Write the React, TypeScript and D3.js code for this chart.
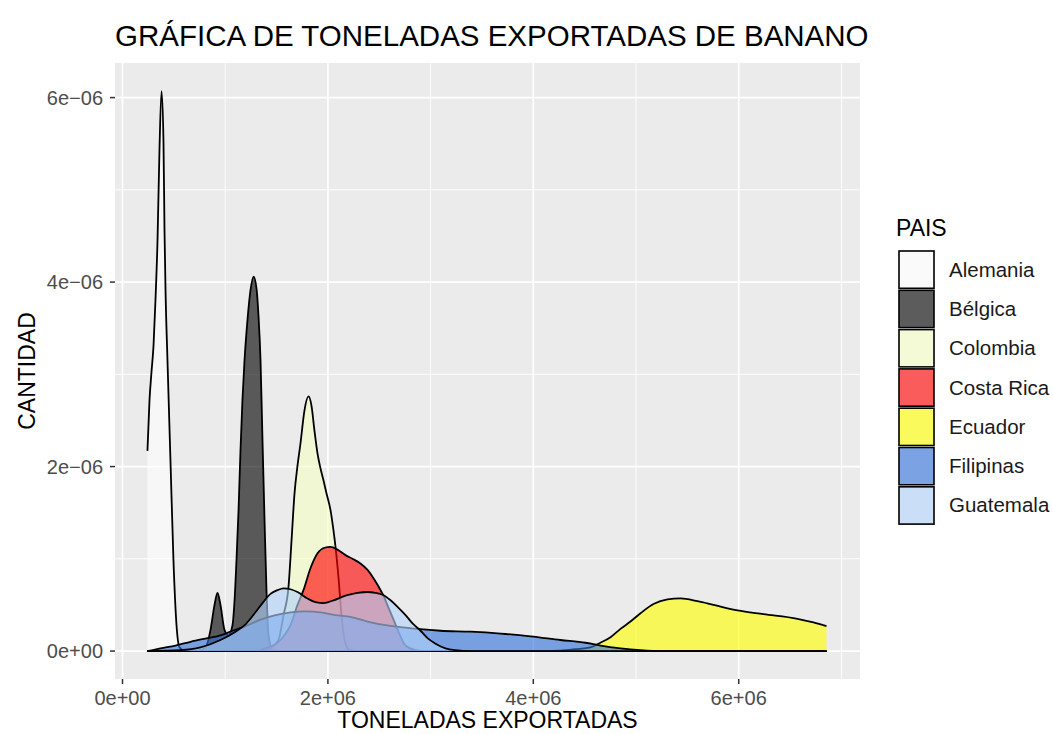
import React from 'react';
import * as d3 from 'd3';

// ---------- data (x: millions of tonnes, y: density in units of 1e-6) ----------
const COUNTRIES = ['Alemania', 'Bélgica', 'Colombia', 'Costa Rica', 'Ecuador', 'Filipinas', 'Guatemala'];
const FILL_COLORS = ['#FFFFFF', '#000000', '#F4FFC4', '#FF0000', '#FFFF00', '#3272DA', '#B2D2FA'];

const ALEMANIA: [number, number][] = [
  [0.243, 2.17], [0.263, 2.72], [0.282, 3.02], [0.302, 3.31], [0.321, 3.8], [0.341, 4.45],
  [0.36, 5.43], [0.38, 6.07], [0.399, 5.53], [0.409, 4.56], [0.419, 3.91], [0.438, 3.15],
  [0.467, 2.07], [0.496, 0.99], [0.526, 0.28], [0.555, 0.04], [0.613, 0], [6.855, 0],
];
const BELGICA: [number, number][] = [
  [0.243, 0], [0.711, 0], [0.808, 0.04], [0.857, 0.23], [0.896, 0.5], [0.925, 0.63],
  [0.954, 0.5], [0.993, 0.23], [1.032, 0.17], [1.071, 0.28], [1.091, 0.55], [1.11, 0.99],
  [1.13, 1.53], [1.149, 2.18], [1.168, 2.72], [1.188, 3.15], [1.217, 3.59], [1.246, 3.91],
  [1.276, 4.06], [1.305, 3.93], [1.324, 3.64], [1.344, 3.15], [1.363, 2.29], [1.383, 1.42],
  [1.402, 0.66], [1.422, 0.17], [1.461, 0.02], [1.538, 0], [6.855, 0],
];
const COLOMBIA: [number, number][] = [
  [0.243, 0], [1.344, 0], [1.441, 0.03], [1.519, 0.12], [1.568, 0.39], [1.616, 0.69],
  [1.646, 1.2], [1.675, 1.71], [1.704, 2.01], [1.733, 2.25], [1.772, 2.61], [1.811, 2.76],
  [1.84, 2.66], [1.869, 2.39], [1.899, 2.14], [1.928, 1.98], [1.957, 1.85], [1.986, 1.71],
  [2.025, 1.53], [2.054, 1.31], [2.074, 1.13], [2.103, 0.8], [2.132, 0.39], [2.162, 0.12],
  [2.21, 0.01], [2.317, 0], [6.855, 0],
];
const COSTA_RICA: [number, number][] = [
  [0.243, 0], [1.295, 0], [1.392, 0.03], [1.538, 0.12], [1.636, 0.28], [1.704, 0.5],
  [1.762, 0.66], [1.831, 0.9], [1.899, 1.06], [1.967, 1.12], [2.025, 1.13], [2.093, 1.1],
  [2.171, 1.04], [2.24, 1.0], [2.317, 0.95], [2.386, 0.88], [2.444, 0.79], [2.493, 0.7],
  [2.541, 0.6], [2.59, 0.47], [2.639, 0.34], [2.687, 0.21], [2.756, 0.06], [2.853, 0.01],
  [2.95, 0], [6.855, 0],
];
const ECUADOR: [number, number][] = [
  [0.243, 0], [4.07, 0], [4.265, 0.005], [4.411, 0.02], [4.557, 0.04], [4.654, 0.09],
  [4.752, 0.15], [4.849, 0.24], [4.946, 0.32], [5.044, 0.41], [5.17, 0.51], [5.307, 0.56],
  [5.433, 0.57], [5.599, 0.54], [5.755, 0.5], [5.989, 0.44], [6.242, 0.4], [6.573, 0.35],
  [6.728, 0.31], [6.855, 0.27],
];
const FILIPINAS: [number, number][] = [
  [0.243, 0], [0.37, 0.03], [0.516, 0.06], [0.662, 0.1], [0.828, 0.14], [0.954, 0.17],
  [1.071, 0.22], [1.198, 0.27], [1.344, 0.34], [1.49, 0.39], [1.636, 0.42], [1.782, 0.43],
  [1.928, 0.42], [2.074, 0.39], [2.22, 0.37], [2.386, 0.32], [2.561, 0.28], [2.707, 0.26],
  [2.872, 0.24], [3.096, 0.22], [3.389, 0.21], [3.681, 0.19], [3.973, 0.16], [4.265, 0.12],
  [4.508, 0.09], [4.654, 0.06], [4.849, 0.03], [5.044, 0.01], [5.239, 0], [6.855, 0],
];
const GUATEMALA: [number, number][] = [
  [0.243, 0], [0.565, 0.01], [0.759, 0.04], [0.954, 0.12], [1.1, 0.21], [1.198, 0.29],
  [1.295, 0.42], [1.363, 0.52], [1.441, 0.62], [1.509, 0.66], [1.568, 0.68], [1.636, 0.67],
  [1.704, 0.64], [1.801, 0.57], [1.879, 0.53], [1.957, 0.52], [2.055, 0.55], [2.171, 0.6],
  [2.288, 0.63], [2.386, 0.64], [2.463, 0.63], [2.532, 0.61], [2.61, 0.55], [2.678, 0.48],
  [2.756, 0.39], [2.824, 0.3], [2.902, 0.22], [2.97, 0.14], [3.048, 0.08], [3.145, 0.03],
  [3.242, 0.01], [3.389, 0], [6.855, 0],
];
const SERIES = [ALEMANIA, BELGICA, COLOMBIA, COSTA_RICA, ECUADOR, FILIPINAS, GUATEMALA];

const X_MAJOR = [0, 2e6, 4e6, 6e6];
const X_MINOR = [1e6, 3e6, 5e6, 7e6];
const X_TICK_LABELS = ['0e+00', '2e+06', '4e+06', '6e+06'];
const Y_MAJOR = [0, 2e-6, 4e-6, 6e-6];
const Y_MINOR = [1e-6, 3e-6, 5e-6];
const Y_TICK_LABELS = ['0e+00', '2e\u221206', '4e\u221206', '6e\u221206'];

const TITLE = 'GRÁFICA DE TONELADAS EXPORTADAS DE BANANO';
const X_TITLE = 'TONELADAS EXPORTADAS';
const Y_TITLE = 'CANTIDAD';
const LEGEND_TITLE = 'PAIS';

const MILLION = 1e6;
const MICRO = 1e-6;

// ---------- layout ----------
const W = 1053;
const H = 734;
const P_LEFT = 115;
const P_RIGHT = 860;
const P_TOP = 63;
const P_BOTTOM = 679;
const FONT = '"Liberation Sans", Arial, Helvetica, sans-serif';
const ALPHA = 0.62;

export default function App() {
  const x = d3.scaleLinear().domain([-0.073e6, 7.181e6]).range([P_LEFT, P_RIGHT]);
  const y = d3.scaleLinear().domain([-0.303e-6, 6.375e-6]).range([P_BOTTOM, P_TOP]);

  const area = d3
    .area<[number, number]>()
    .x((d) => x(d[0] * MILLION))
    .y0(y(0))
    .y1((d) => y(d[1] * MICRO))
    .curve(d3.curveMonotoneX);
  const line = d3
    .line<[number, number]>()
    .x((d) => x(d[0] * MILLION))
    .y((d) => y(d[1] * MICRO))
    .curve(d3.curveMonotoneX);

  const keyX = 898;
  const keyW = 37;
  const keyH = 39.3;
  const keyTop = 250;

  return (
    <svg
      width={W}
      height={H}
      style={{ position: 'absolute', left: 0, top: 0, background: '#FFFFFF' }}
      fontFamily={FONT}
    >
      <rect x={0} y={0} width={W} height={H} fill="#FFFFFF" />
      {/* panel */}
      <rect x={P_LEFT} y={P_TOP} width={P_RIGHT - P_LEFT} height={P_BOTTOM - P_TOP} fill="#EBEBEB" />
      {X_MINOR.map((v) => (
        <line key={'xm' + v} x1={x(v)} x2={x(v)} y1={P_TOP} y2={P_BOTTOM} stroke="#FFFFFF" strokeWidth={0.9} />
      ))}
      {Y_MINOR.map((v) => (
        <line key={'ym' + v} x1={P_LEFT} x2={P_RIGHT} y1={y(v)} y2={y(v)} stroke="#FFFFFF" strokeWidth={0.9} />
      ))}
      {X_MAJOR.map((v) => (
        <line key={'xM' + v} x1={x(v)} x2={x(v)} y1={P_TOP} y2={P_BOTTOM} stroke="#FFFFFF" strokeWidth={1.7} />
      ))}
      {Y_MAJOR.map((v) => (
        <line key={'yM' + v} x1={P_LEFT} x2={P_RIGHT} y1={y(v)} y2={y(v)} stroke="#FFFFFF" strokeWidth={1.7} />
      ))}

      {/* densities */}
      {SERIES.map((s, i) => (
        <g key={COUNTRIES[i]}>
          <path d={area(s) || ''} fill={FILL_COLORS[i]} fillOpacity={ALPHA} stroke="none" />
          <path d={line(s) || ''} fill="none" stroke="#000000" strokeWidth={1.8} strokeLinejoin="round" />
        </g>
      ))}

      {/* axes ticks */}
      {X_MAJOR.map((v, i) => (
        <g key={'xt' + v}>
          <line x1={x(v)} x2={x(v)} y1={P_BOTTOM} y2={P_BOTTOM + 5} stroke="#333333" strokeWidth={1.5} />
          <text x={x(v)} y={705} textAnchor="middle" fontSize={20} fill="#4D4D4D">
            {X_TICK_LABELS[i]}
          </text>
        </g>
      ))}
      {Y_MAJOR.map((v, i) => (
        <g key={'yt' + v}>
          <line x1={P_LEFT - 5} x2={P_LEFT} y1={y(v)} y2={y(v)} stroke="#333333" strokeWidth={1.5} />
          <text x={103} y={y(v) + 7} textAnchor="end" fontSize={20} fill="#4D4D4D">
            {Y_TICK_LABELS[i]}
          </text>
        </g>
      ))}

      {/* titles */}
      <text x={P_LEFT} y={46} fontSize={29.5} fill="#000000">
        {TITLE}
      </text>
      <text x={(P_LEFT + P_RIGHT) / 2} y={728} textAnchor="middle" fontSize={23} fill="#000000">
        {X_TITLE}
      </text>
      <text
        transform={`translate(35, ${(P_TOP + P_BOTTOM) / 2}) rotate(-90)`}
        textAnchor="middle"
        fontSize={23}
        fill="#000000"
      >
        {Y_TITLE}
      </text>

      {/* legend */}
      <text x={896} y={236} fontSize={23} fill="#000000">
        {LEGEND_TITLE}
      </text>
      {COUNTRIES.map((c, i) => (
        <g key={'lg' + c}>
          <rect x={keyX} y={keyTop + i * keyH} width={keyW} height={keyH} fill="#F2F2F2" />
          <rect
            x={keyX + 1}
            y={keyTop + i * keyH + 1}
            width={keyW - 2}
            height={keyH - 2}
            fill={FILL_COLORS[i]}
            fillOpacity={ALPHA}
            stroke="#000000"
            strokeWidth={1.6}
          />
          <text x={949} y={keyTop + i * keyH + keyH / 2 + 7} fontSize={20.5} fill="#1A1A1A">
            {c}
          </text>
        </g>
      ))}
    </svg>
  );
}
